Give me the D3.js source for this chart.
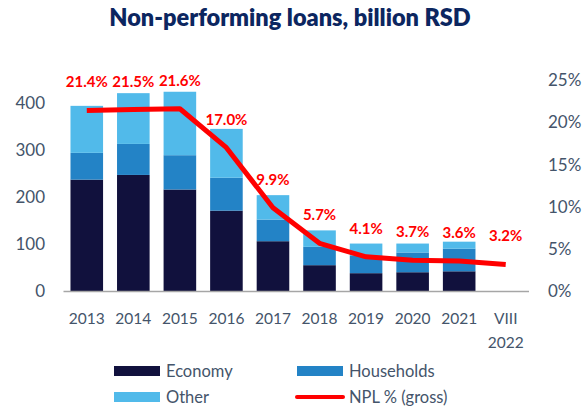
<!DOCTYPE html>
<html>
<head>
<meta charset="utf-8">
<script src="https://cdn.jsdelivr.net/npm/d3@7"></script>
<style>
  html, body { margin: 0; padding: 0; background: #fff; }
  svg { display: block; font-family: Lato, "Open Sans", sans-serif; }
</style>
</head>
<body>
<svg id="chart" width="583" height="409"></svg>
<script>
// Categories (last one has only the NPL ratio)
const categories = ["2013", "2014", "2015", "2016", "2017", "2018", "2019", "2020", "2021", "VIII 2022"];
// Non-performing loans by sector, billion RSD
const economy    = [238, 248, 217, 172, 107, 56, 39, 41, 43, null];
const households = [57, 66, 73, 70, 46, 39, 38, 42, 48, null];
const other      = [100, 108, 135, 104, 52, 35, 25, 19, 15, null];
// NPL ratio, gross, %
const nplRatio   = [21.4, 21.5, 21.6, 17.0, 9.9, 5.7, 4.1, 3.7, 3.6, 3.2];
const leftTicks  = [0, 100, 200, 300, 400];
const rightTicks = [0, 5, 10, 15, 20, 25];

const seriesNames  = ["Economy", "Households", "Other"];
const seriesColors = ["#11113d", "#2383c6", "#51baea"];

const svg = d3.select("#chart");
const plot = { left: 63.5, right: 529, top: 80, bottom: 291.5 };

const x = d3.scaleBand().domain(categories).range([plot.left, plot.right]).paddingInner(0.3).paddingOuter(0.15);
const yL = d3.scaleLinear().domain([0, 450]).range([plot.bottom, plot.top]);
const yR = d3.scaleLinear().domain([0, 25]).range([plot.bottom, plot.top]);

// Title
svg.append("text")
  .attr("x", 290).attr("y", 26)
  .attr("text-anchor", "middle")
  .attr("font-size", 23.5).attr("font-weight", 800)
  .attr("fill", "#0c2660")
  .text("Non-performing loans, billion RSD");

// Stacked bars
const rows = categories.map((c, i) => ({ cat: c, Economy: economy[i], Households: households[i], Other: other[i] }))
  .filter(d => d.Economy != null);
const stack = d3.stack().keys(seriesNames)(rows);

svg.append("g").selectAll("g").data(stack).join("g")
  .attr("fill", (d, i) => seriesColors[i])
  .selectAll("rect").data(d => d).join("rect")
  .attr("x", d => x(d.data.cat))
  .attr("width", x.bandwidth())
  .attr("y", d => yL(d[1]))
  .attr("height", d => yL(d[0]) - yL(d[1]));

// Category axis line
svg.append("line")
  .attr("x1", plot.left).attr("x2", plot.right)
  .attr("y1", plot.bottom).attr("y2", plot.bottom)
  .attr("stroke", "#a6a6a6").attr("stroke-width", 1.5);

const tickColor = "#44546a";

// Left axis labels
const leftAxis = d3.axisLeft(yL).tickValues(leftTicks).tickSize(0).tickPadding(0);
svg.append("g").attr("transform", "translate(45,0)").call(leftAxis)
  .call(g => g.select(".domain").remove())
  .call(g => g.selectAll("text").attr("font-size", 17).attr("fill", tickColor).attr("font-family", "Lato"));

// Right axis labels
const rightAxis = d3.axisRight(yR).tickValues(rightTicks).tickFormat(d => d + "%").tickSize(0).tickPadding(0);
svg.append("g").attr("transform", "translate(548,0)").call(rightAxis)
  .call(g => g.select(".domain").remove())
  .call(g => g.selectAll("text").attr("font-size", 17).attr("fill", tickColor).attr("font-family", "Lato"));

// Category labels (two lines where needed)
const catLabels = svg.append("g").selectAll("text").data(categories).join("text")
  .attr("text-anchor", "middle")
  .attr("font-size", 15.5).attr("fill", tickColor)
  .attr("transform", d => `translate(${x(d) + x.bandwidth() / 2},324)`);
catLabels.each(function(d) {
  const parts = d.split(" ");
  d3.select(this).selectAll("tspan").data(parts).join("tspan")
    .attr("x", 0).attr("dy", (p, i) => i === 0 ? 0 : 23.5).text(p => p);
});

// NPL ratio line
const line = d3.line()
  .x((d, i) => x(categories[i]) + x.bandwidth() / 2)
  .y(d => yR(d));
svg.append("path")
  .datum(nplRatio)
  .attr("d", line)
  .attr("fill", "none")
  .attr("stroke", "#ff0000")
  .attr("stroke-width", 5)
  .attr("stroke-linejoin", "round");

// NPL value labels
svg.append("g").selectAll("text").data(nplRatio).join("text")
  .attr("x", (d, i) => x(categories[i]) + x.bandwidth() / 2)
  .attr("y", d => yR(d) - 23)
  .attr("text-anchor", "middle")
  .attr("font-size", 15).attr("font-weight", 700)
  .attr("fill", "#ff0000")
  .text(d => d.toFixed(1) + "%");

// Legend
const legendItems = [
  { name: "Economy", type: "rect", color: seriesColors[0], x: 114, y: 371 },
  { name: "Households", type: "rect", color: seriesColors[1], x: 297, y: 371 },
  { name: "Other", type: "rect", color: seriesColors[2], x: 114, y: 397 },
  { name: "NPL % (gross)", type: "line", color: "#ff0000", x: 297, y: 397 }
];
const lg = svg.append("g").selectAll("g").data(legendItems).join("g")
  .attr("transform", d => `translate(${d.x},${d.y})`);
lg.filter(d => d.type === "rect").append("rect")
  .attr("x", 0).attr("y", -5).attr("width", 46).attr("height", 10)
  .attr("fill", d => d.color);
lg.filter(d => d.type === "line").append("line")
  .attr("x1", 0).attr("x2", 46).attr("y1", 0).attr("y2", 0)
  .attr("stroke", d => d.color).attr("stroke-width", 4).attr("stroke-linecap", "round");
lg.append("text")
  .attr("x", 52).attr("y", 0).attr("dy", "0.35em")
  .attr("font-size", 16.5).attr("fill", tickColor)
  .text(d => d.name);
</script>
</body>
</html>
